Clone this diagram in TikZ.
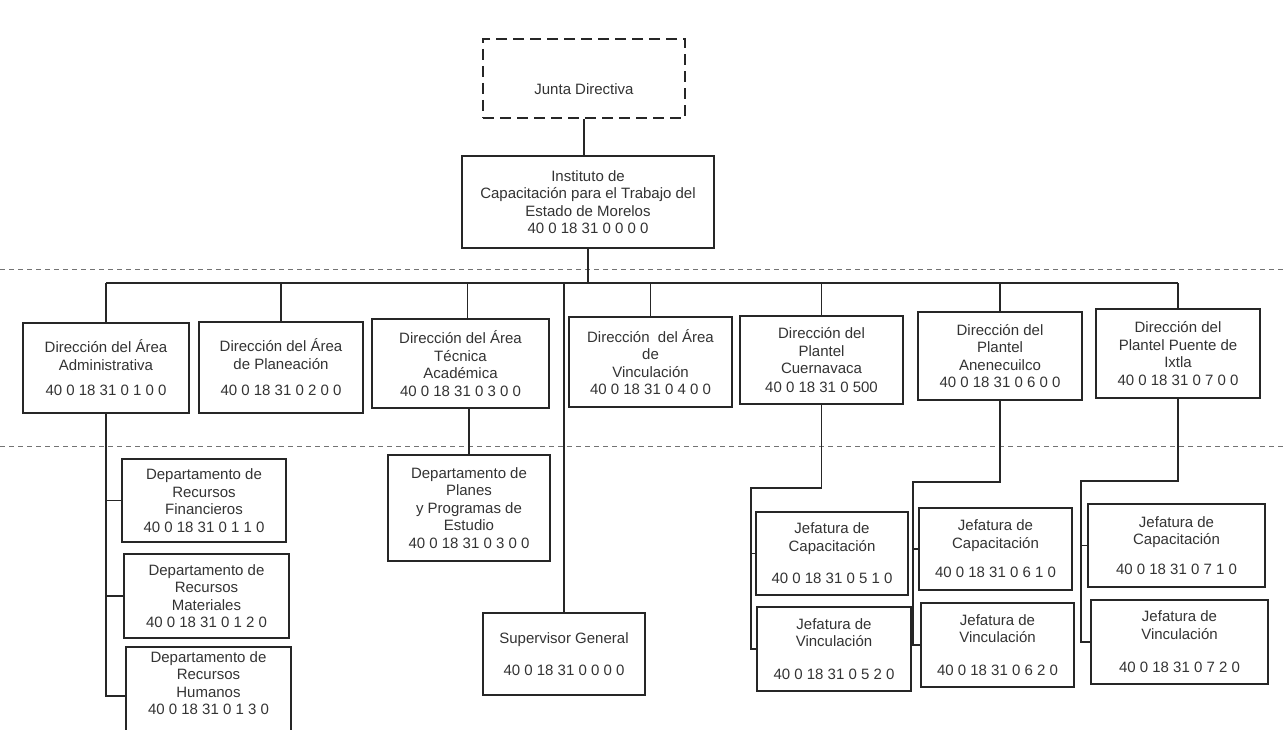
\documentclass[tikz,border=0pt]{standalone}
\usepackage{fontspec}
\setmainfont{Liberation Sans}
\newcommand\orgbox[7][]{%
  \pgfmathsetmacro\obW{#5-#3}\pgfmathsetmacro\obH{#6-#4}%
  \pgfmathsetmacro\obX{(#3+#5)/2}\pgfmathsetmacro\obY{(#4+#6)/2}%
  \node[box,#1,minimum width=\obW pt,minimum height=\obH pt] (#2) at (\obX,\obY) {#7};}
\begin{document}
\begin{tikzpicture}[x=1pt,y=-1pt,
  box/.style={draw=black!85,line width=1.5pt,align=center,inner sep=0pt,
    font=\fontsize{15}{17.5}\selectfont,text=black!80},
  dashbox/.style={dash pattern=on 11pt off 6pt},
  conn/.style={draw=black!85,line width=1.5pt},
  sepline/.style={draw=black!55,line width=1pt,dash pattern=on 5pt off 4pt}]
\clip (0,0) rectangle (1284,730);
\fill[white] (0,0) rectangle (1284,730);
% separators
\draw[sepline] (0,269) -- (1284,269);
\draw[sepline] (0,446) -- (1284,446);
% top
\orgbox[dashbox]{junta}{483}{39}{685}{118}{\rule{0pt}{33pt}Junta Directiva}
\orgbox{inst}{462}{156}{714}{248}{Instituto de\\Capacitación para el Trabajo del\\Estado de Morelos\\40 0 18 31 0 0 0 0}
% second level
\orgbox{adm}{23}{323}{189}{413}{Dirección del Área\\Administrativa\\[8pt]40 0 18 31 0 1 0 0}
\orgbox{pla}{199}{322}{363}{413}{Dirección del Área\\de Planeación\\[9pt]40 0 18 31 0 2 0 0}
\orgbox{tec}{372}{319}{549}{408}{Dirección del Área\\Técnica\\Académica\\40 0 18 31 0 3 0 0}
\orgbox{vin}{569}{317}{732}{407}{Dirección\ \ del Área\\de\\Vinculación\\40 0 18 31 0 4 0 0}
\orgbox{cue}{740}{316}{903}{404}{Dirección del\\Plantel\\Cuernavaca\\[1pt]40 0 18 31 0 500}
\orgbox{ane}{918}{312}{1082}{400}{Dirección del\\Plantel\\Anenecuilco\\40 0 18 31 0 6 0 0}
\orgbox{ixt}{1096}{309}{1260}{398}{Dirección del\\Plantel Puente de\\Ixtla\\40 0 18 31 0 7 0 0}
% third level
\orgbox{fin}{122}{459}{286}{542}{Departamento de\\Recursos\\Financieros\\40 0 18 31 0 1 1 0}
\orgbox{mat}{124}{554}{289}{638}{Departamento de\\Recursos\\Materiales\\40 0 18 31 0 1 2 0}
\orgbox{hum}{126}{647}{291}{745}{Departamento de\\Recursos\\Humanos\\40 0 18 31 0 1 3 0\\[8pt]}
\orgbox{pln}{388}{455}{550}{561}{Departamento de\\Planes\\y Programas de\\Estudio\\40 0 18 31 0 3 0 0}
\orgbox{sup}{483}{613}{645}{695}{Supervisor General\\[15pt]40 0 18 31 0 0 0 0}
\orgbox{cc1}{756}{512}{908}{595}{Jefatura de\\Capacitación\\[15pt]40 0 18 31 0 5 1 0}
\orgbox{cv1}{757}{607}{911}{691}{Jefatura de\\Vinculación\\[15pt]40 0 18 31 0 5 2 0}
\orgbox{cc2}{919}{508}{1072}{590}{Jefatura de\\Capacitación\\[12pt]40 0 18 31 0 6 1 0}
\orgbox{cv2}{921}{603}{1074}{687}{Jefatura de\\Vinculación\\[15pt]40 0 18 31 0 6 2 0}
\orgbox{cc3}{1088}{504}{1265}{587}{Jefatura de\\Capacitación\\[12pt]40 0 18 31 0 7 1 0}
\orgbox{cv3}{1091}{600}{1268}{684}{Jefatura de\\Vinculación\\[16pt]40 0 18 31 0 7 2 0}
% connectors
\coordinate (bus) at (0,283);
\draw[conn] (junta.south) -- (junta.south |- inst.north);
\draw[conn] (inst.south) -- (inst.south |- bus);
\draw[conn] (adm.north |- bus) -- (ixt.north |- bus);
\foreach \n in {adm,pla,vin,cue,ane,ixt,sup}
  \draw[conn] (\n.north) -- (\n.north |- bus);
\draw[conn] ([xshift=7pt]tec.north) -- ([xshift=7pt]tec.north |- bus);
\draw[conn] (pln.north) -- (pln.north |- tec.south);
% admin subtree
\draw[conn] (adm.south) -- (adm.south |- hum.west) -- (hum.west);
\draw[conn] (adm.south |- fin.west) -- (fin.west);
\draw[conn] (adm.south |- mat.west) -- (mat.west);
% plantel subtrees
\coordinate (cueK) at (751,488);
\coordinate (aneK) at (913,482);
\coordinate (ixtK) at (1081,481);
\draw[conn] (cue.south) |- (cueK) -- (cueK |- cv1.west) -- (cv1.west);
\draw[conn] (cueK |- cc1.west) -- (cc1.west);
\draw[conn] (ane.south) |- (aneK) -- (aneK |- cv2.west) -- (cv2.west);
\draw[conn] (aneK |- cc2.west) -- (cc2.west);
\draw[conn] (ixt.south) |- (ixtK) -- (ixtK |- cv3.west) -- (cv3.west);
\draw[conn] (ixtK |- cc3.west) -- (cc3.west);
\end{tikzpicture}
\end{document}
